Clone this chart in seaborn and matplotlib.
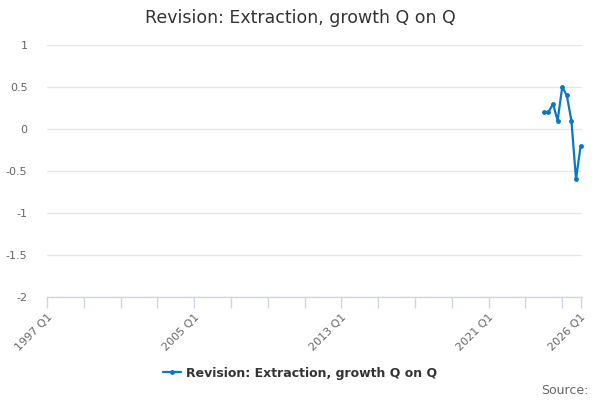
import pandas as pd
import matplotlib
matplotlib.use('Agg')
import matplotlib.pyplot as plt
import seaborn as sns

# Categories on the x axis: every quarter from 1997 Q1 to 2026 Q1
quarters = [f'{y} Q{q}' for y in range(1997, 2027) for q in range(1, 5)]
quarters = quarters[:quarters.index('2026 Q1') + 1]

# Series (only the last quarters have values)
data_quarters = ['2024 Q1', '2024 Q2', '2024 Q3', '2024 Q4',
                 '2025 Q1', '2025 Q2', '2025 Q3', '2025 Q4', '2026 Q1']
revision = [0.2, 0.2, 0.3, 0.1, 0.5, 0.4, 0.1, -0.6, -0.2]

label_quarters = ['1997 Q1', '2005 Q1', '2013 Q1', '2021 Q1', '2026 Q1']
y_ticks = [1, 0.5, 0, -0.5, -1, -1.5, -2]
y_labels = ['1', '0.5', '0', '-0.5', '-1', '-1.5', '-2']

series_name = 'Revision: Extraction, growth Q on Q'
blue = '#0a78c2'

df = pd.DataFrame({'Quarter': data_quarters, 'Value': revision})
df['pos'] = df['Quarter'].map(quarters.index)

sns.set_style('white')
plt.rcParams['font.family'] = ['DejaVu Sans']

fig = plt.figure(figsize=(6, 4), dpi=100)
ax = fig.add_axes([47 / 600, 1 - 297 / 400, 535 / 600, 252 / 400])

sns.lineplot(data=df, x='pos', y='Value', ax=ax, color=blue, linewidth=1.6,
             marker='o', markersize=3.5, markeredgewidth=0, label=series_name,
             legend=False)
for line in ax.lines:
    line.set_clip_on(False)

ax.set_xlim(0, len(quarters) - 0.7)
ax.set_ylim(-2, 1)
ax.set_yticks(y_ticks)
ax.set_yticklabels(y_labels)
ax.yaxis.grid(True, color='#e6e6e6', linewidth=1)
ax.set_axisbelow(True)

# x ticks: marks every 2 years, labels on selected quarters
minor_pos = list(range(0, len(quarters), 8)) + [len(quarters) - 1]
ax.set_xticks(minor_pos, minor=True)
ax.set_xticks([quarters.index(q) for q in label_quarters])
ax.set_xticklabels(label_quarters, rotation=45, ha='right', rotation_mode='anchor')
ax.tick_params(axis='x', which='both', bottom=True, direction='out', length=8,
               color='#ccd6eb', width=1, labelsize=8, labelcolor='#666666', pad=3)
ax.tick_params(axis='y', length=0, labelsize=8, labelcolor='#666666', pad=14)

for side in ['top', 'right', 'left']:
    ax.spines[side].set_visible(False)
ax.spines['bottom'].set_color('#ccd6eb')
ax.spines['bottom'].set_linewidth(1)
ax.set_xlabel('')
ax.set_ylabel('')

fig.text(0.5, 1 - 18 / 400, 'Revision: Extraction, growth Q on Q', ha='center',
         va='center', fontsize=12.5, color='#333333')

handles, labels = ax.get_legend_handles_labels()
fig.legend(handles, labels, loc='center', bbox_to_anchor=(0.5, 1 - 373 / 400),
           frameon=False, prop={'weight': 'bold', 'size': 9}, labelcolor='#333333',
           handlelength=1.4, handletextpad=0.4)

fig.text(589 / 600, 1 - 390 / 400, 'Source:', ha='right', va='center',
         fontsize=9, color='#666666')

fig.savefig('out.png', dpi=100)
